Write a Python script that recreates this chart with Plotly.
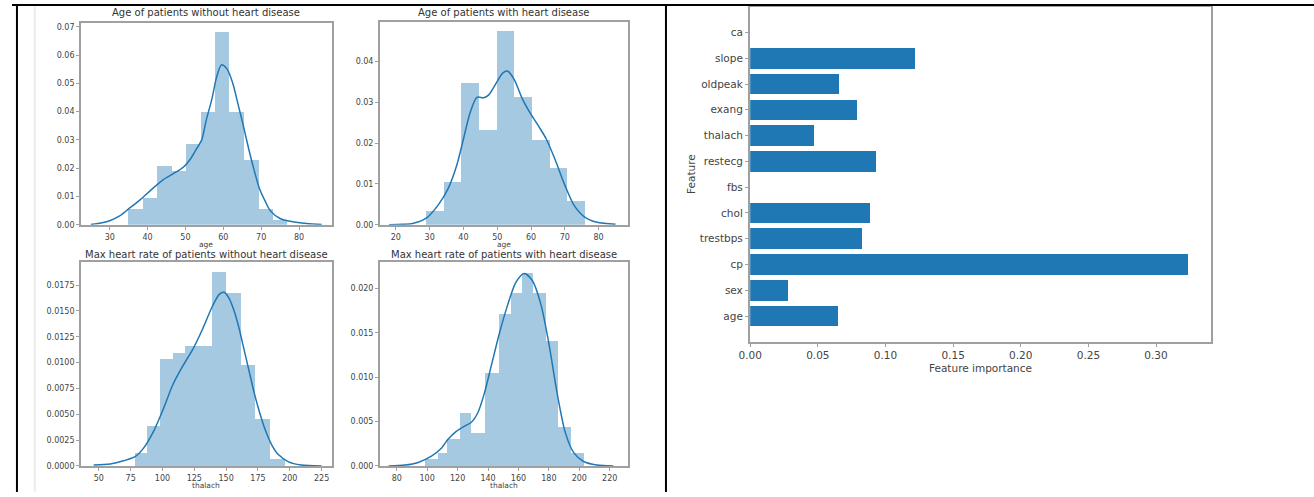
import plotly.graph_objects as go

W, H = 1314, 497

# ---------------- data ----------------
# Age, patients without heart disease (density histogram + KDE)
age_no_edges = [35, 38.8, 42.6, 46.5, 50.3, 54.1, 57.9, 61.7, 65.5, 69.4, 73.2, 77]
age_no_density = [0.0057, 0.0095, 0.0209, 0.0190, 0.0285, 0.0399, 0.0683, 0.0399, 0.0228, 0.0057, 0.0019]
age_no_kde_x = [25, 28, 30, 32.5, 35, 38, 41, 44, 47, 49.5, 51.5, 53, 54.3, 55.5, 57, 58.2, 59.5,
                61, 62.5, 64, 65.3, 66.5, 68, 69.5, 71, 72.5, 75, 78, 82, 86]
age_no_kde_y = [0.0001, 0.0007, 0.0014, 0.003, 0.0056, 0.0088, 0.0124, 0.0158, 0.0182, 0.0204, 0.0236,
                0.027, 0.030, 0.037, 0.0445, 0.052, 0.0565, 0.055, 0.050, 0.042, 0.035, 0.028, 0.020,
                0.013, 0.0085, 0.0048, 0.0022, 0.0011, 0.0004, 0.0001]

# Age, patients with heart disease
age_yes_edges = [29, 34.2, 39.4, 44.7, 49.9, 55.1, 60.3, 65.6, 70.8, 76]
age_yes_density = [0.0035, 0.0105, 0.0348, 0.0232, 0.0476, 0.0313, 0.0209, 0.0139, 0.0058]
age_yes_kde_x = [18, 22, 25, 29, 32.5, 35.5, 38, 40, 42, 44, 46, 47.5, 49.2, 51.7, 53.1, 55, 57.5,
                 60, 62.5, 64.5, 67, 70, 72.7, 75.7, 79.5, 85]
age_yes_kde_y = [0.0, 0.0001, 0.0003, 0.0016, 0.0048, 0.0089, 0.0145, 0.021, 0.0275, 0.0312, 0.0311,
                 0.0318, 0.034, 0.0372, 0.0376, 0.0356, 0.0307, 0.027, 0.0238, 0.021, 0.0162, 0.0097,
                 0.0048, 0.002, 0.0006, 0.0001]

# Max heart rate (thalach), patients without heart disease
hr_no_edges = [78.5, 88, 98, 108.3, 118.3, 128.5, 139, 150.5, 162, 173.2, 184.8, 196.3]
hr_no_density = [0.0012, 0.0038, 0.0103, 0.0109, 0.0116, 0.0116, 0.0187, 0.0167, 0.0097, 0.0045, 0.0006]
hr_no_kde_x = [46, 59, 69.4, 78.5, 85, 92.8, 100.6, 108.3, 116.1, 123.9, 131.7, 139.4, 144.6, 148.5,
               152.4, 156.3, 160.2, 164, 168, 172, 176, 181, 186, 191, 199, 209, 225]
hr_no_kde_y = [0.0001, 0.0002, 0.0005, 0.0009, 0.0017, 0.0033, 0.0055, 0.0079, 0.0097, 0.0113, 0.0133,
               0.0155, 0.0166, 0.0168, 0.0162, 0.0150, 0.0133, 0.0113, 0.0092, 0.0071, 0.0053, 0.0034,
               0.0020, 0.0011, 0.0004, 0.0001, 0.0]

# Max heart rate (thalach), patients with heart disease
hr_yes_edges = [99, 107, 113.5, 121.5, 129, 138, 147.5, 155, 162.5, 170, 178.5, 186.5, 195, 203]
hr_yes_density = [0.0007, 0.0014, 0.0030, 0.0059, 0.0037, 0.0104, 0.0171, 0.0195, 0.0217, 0.0195,
                  0.0140, 0.0044, 0.0014]
hr_yes_kde_x = [74.6, 85.4, 94.1, 102.8, 109.3, 113.7, 119.1, 124.6, 128.9, 133.3, 137.6, 142, 147.4,
                152.8, 158.3, 163.7, 169.1, 174.6, 180, 185.4, 190.9, 196.3, 202.8, 211.5, 222.4]
hr_yes_kde_y = [0, 0.0001, 0.0004, 0.0011, 0.002, 0.003, 0.0039, 0.0045, 0.0049, 0.006, 0.0082, 0.0112,
                0.0149, 0.0181, 0.0207, 0.0217, 0.0209, 0.0183, 0.0138, 0.0082, 0.0037, 0.0015, 0.0005,
                0.0001, 0]

# Feature importances
features = ["age", "sex", "cp", "trestbps", "chol", "fbs", "restecg", "thalach", "exang",
            "oldpeak", "slope", "ca"]
importance = [0.065, 0.028, 0.324, 0.083, 0.089, 0.0, 0.093, 0.047, 0.079, 0.0655, 0.122, 0.0]

# ---------------- styling ----------------
BLUE = "#1f77b4"
HIST_FILL = "rgba(31,119,180,0.4)"
SPINE = "#a0a0a0"
TXT = "#444444"
FONT = "DejaVu Sans"


def px_x(p):
    return p / W


def px_y(p):
    return 1 - p / H


fig = go.Figure()


def add_distplot(edges, dens, kx, ky, n):
    centers = [(a + b) / 2 for a, b in zip(edges[:-1], edges[1:])]
    widths = [b - a for a, b in zip(edges[:-1], edges[1:])]
    xa = "x" if n == 1 else f"x{n}"
    ya = "y" if n == 1 else f"y{n}"
    fig.add_trace(go.Bar(x=centers, y=dens, width=widths, marker=dict(color=HIST_FILL, line=dict(width=0)),
                         xaxis=xa, yaxis=ya, showlegend=False, hoverinfo="skip"))
    fig.add_trace(go.Scatter(x=kx, y=ky, mode="lines", line=dict(color=BLUE, width=1.5, shape="spline",
                                                                  smoothing=0.8),
                             xaxis=xa, yaxis=ya, showlegend=False, hoverinfo="skip"))


add_distplot(age_no_edges, age_no_density, age_no_kde_x, age_no_kde_y, 1)
add_distplot(age_yes_edges, age_yes_density, age_yes_kde_x, age_yes_kde_y, 2)
add_distplot(hr_no_edges, hr_no_density, hr_no_kde_x, hr_no_kde_y, 3)
add_distplot(hr_yes_edges, hr_yes_density, hr_yes_kde_x, hr_yes_kde_y, 4)

fig.add_trace(go.Bar(x=importance, y=list(range(len(features))), orientation="h", width=0.8,
                     marker=dict(color=BLUE, line=dict(width=0)), xaxis="x5", yaxis="y5",
                     showlegend=False, hoverinfo="skip"))

# axis boxes in pixels: (left, right, top, bottom)
boxes = {
    1: (70, 322.5, 23, 227),
    2: (371.7, 621.7, 22, 227),
    3: (70, 322.5, 265, 470.7),
    4: (371.7, 621.7, 265, 470.7),
    5: (745, 1210, 7, 345),
}


def axis_common(size):
    return dict(showline=True, mirror=True, linecolor=SPINE, linewidth=1.5, showgrid=False,
                zeroline=False, ticks="outside", ticklen=3.5, tickcolor=SPINE, tickwidth=1,
                tickfont=dict(family=FONT, size=size, color=TXT))


xspecs = {
    1: dict(range=[22.5, 88.6], tickvals=[30, 40, 50, 60, 70, 80]),
    2: dict(range=[15.4, 88.7], tickvals=[20, 30, 40, 50, 60, 70, 80]),
    3: dict(range=[36.3, 232.8], tickvals=[50, 75, 100, 125, 150, 175, 200, 225]),
    4: dict(range=[69.2, 232], tickvals=[80, 100, 120, 140, 160, 180, 200, 220]),
    5: dict(range=[0, 0.3406], tickvals=[0, 0.05, 0.10, 0.15, 0.20, 0.25, 0.30], tickformat=".2f"),
}
yspecs = {
    1: dict(range=[0, 0.0714], tickvals=[0, 0.01, 0.02, 0.03, 0.04, 0.05, 0.06, 0.07], tickformat=".2f"),
    2: dict(range=[0, 0.0497], tickvals=[0, 0.01, 0.02, 0.03, 0.04], tickformat=".2f"),
    3: dict(range=[0, 0.0197], tickvals=[0, 0.0025, 0.005, 0.0075, 0.01, 0.0125, 0.015, 0.0175],
            tickformat=".4f"),
    4: dict(range=[0, 0.02295], tickvals=[0, 0.005, 0.01, 0.015, 0.02], tickformat=".3f"),
    5: dict(range=[-0.99, 11.99], tickvals=list(range(len(features))), ticktext=features),
}

layout_axes = {}
for n, (l, r, t, b) in boxes.items():
    size = 10.5 if n == 5 else 8
    xk = "xaxis" if n == 1 else f"xaxis{n}"
    yk = "yaxis" if n == 1 else f"yaxis{n}"
    ya = "y" if n == 1 else f"y{n}"
    xa = "x" if n == 1 else f"x{n}"
    layout_axes[xk] = dict(domain=[px_x(l), px_x(r)], anchor=ya, **axis_common(size), **xspecs[n])
    layout_axes[yk] = dict(domain=[px_y(b), px_y(t)], anchor=xa, **axis_common(size), **yspecs[n])

annotations = []


def text_at(x, y, s, size, angle=0, color="#333333"):
    annotations.append(dict(x=px_x(x), y=px_y(y), xref="paper", yref="paper", text=s, showarrow=False,
                            xanchor="center", yanchor="middle", textangle=angle,
                            font=dict(family=FONT, size=size, color=color)))


text_at(196, 13, "Age of patients without heart disease", 10)
text_at(496.7, 13, "Age of patients with heart disease", 10)
text_at(196, 257, "Max heart rate of patients without heart disease", 10)
text_at(496.7, 257, "Max heart rate of patients with heart disease", 10)
text_at(196, 247, "age", 7.5, color=TXT)
text_at(496.7, 247, "age", 7.5, color=TXT)
text_at(196, 490, "thalach", 7.5, color=TXT)
text_at(496.7, 490, "thalach", 7.5, color=TXT)
text_at(977.5, 372, "Feature importance", 10.5, color=TXT)
text_at(685, 176, "Feature", 10.5, angle=-90, color=TXT)

# table cell borders around the two panels
shapes = [
    dict(type="line", xref="paper", yref="paper", x0=0, x1=1, y0=px_y(5), y1=px_y(5),
         line=dict(color="black", width=2)),
    dict(type="line", xref="paper", yref="paper", x0=px_x(5), x1=px_x(5), y0=0, y1=px_y(5),
         line=dict(color="black", width=2)),
    dict(type="line", xref="paper", yref="paper", x0=px_x(660), x1=px_x(660), y0=0, y1=px_y(5),
         line=dict(color="black", width=2)),
    dict(type="line", xref="paper", yref="paper", x0=px_x(23), x1=px_x(23), y0=0, y1=px_y(6),
         line=dict(color="#ececec", width=2)),
]

fig.update_layout(
    width=W, height=H, autosize=False,
    margin=dict(l=0, r=0, t=0, b=0, pad=0),
    paper_bgcolor="white", plot_bgcolor="white",
    bargap=0, showlegend=False,
    annotations=annotations, shapes=shapes,
    **layout_axes,
)

fig.write_html("out.html")
